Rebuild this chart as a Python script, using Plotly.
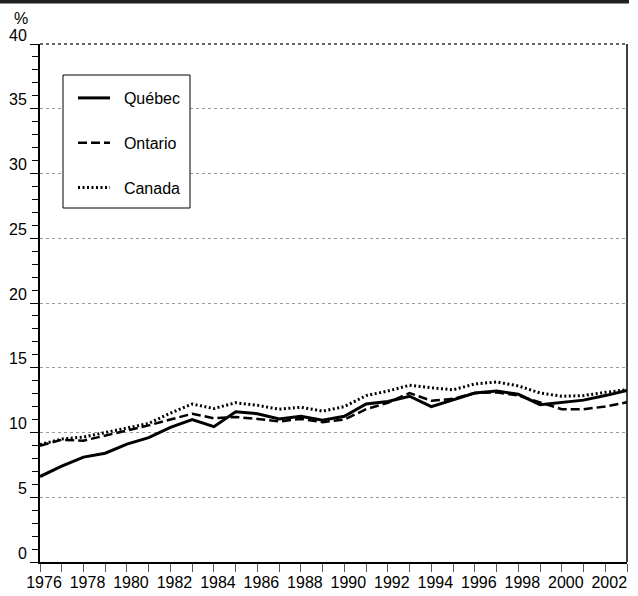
import plotly.graph_objects as go

years = list(range(1976, 2004))
quebec = [6.6, 7.4, 8.1, 8.4, 9.1, 9.6, 10.4, 11.0, 10.45, 11.6, 11.45, 11.05, 11.25, 10.95, 11.25, 12.2, 12.4, 12.8,
          12.0, 12.5, 13.05, 13.2, 12.95, 12.15, 12.3, 12.5, 12.85, 13.25]
ontario = [8.98, 9.44, 9.37, 9.75, 10.16, 10.55, 11.0, 11.45, 11.1, 11.2, 11.05, 10.85, 11.05, 10.8, 11.0, 11.8, 12.3, 13.05,
           12.45, 12.6, 13.05, 13.1, 12.85, 12.3, 11.8, 11.8, 12.0, 12.33]
canada = [9.06, 9.5, 9.65, 10.0, 10.4, 10.7, 11.5, 12.2, 11.85, 12.3, 12.1, 11.8, 11.95, 11.65, 12.0, 12.85, 13.2, 13.65,
          13.45, 13.3, 13.75, 13.9, 13.6, 13.05, 12.8, 12.85, 13.1, 13.3]
series_names = ["Québec", "Ontario", "Canada"]
x_tick_years = list(range(1976, 2003, 2))
y_ticks = [0, 5, 10, 15, 20, 25, 30, 35, 40]

FONT = "Liberation Sans, Arial, sans-serif"
FS = 16

W, H = 638, 596
L, R, T, B = 40, 11, 44, 34
PW, PH = W - L - R, H - T - B


def px(x):
    return (x - L) / PW


def py(y):
    return (H - B - y) / PH


fig = go.Figure()
styles = [dict(color="black", width=3, dash="solid"),
          dict(color="black", width=2.5, dash="9px,4px"),
          dict(color="black", width=3, dash="2px,2.5px")]
for name, vals, st in zip(series_names, [quebec, ontario, canada], styles):
    fig.add_trace(go.Scatter(x=years, y=vals, mode="lines", name="\u00a0\u00a0" + name, line=st,
                             legendgroup=name, hovertemplate=name + ": %{y}<extra>%{x}</extra>"))

fig.update_layout(
    width=W, height=H,
    margin=dict(l=L, r=R, t=T, b=B, pad=0, autoexpand=False),
    plot_bgcolor="white", paper_bgcolor="white",
    font=dict(family=FONT, size=FS, color="black"),
    showlegend=True,
    legend=dict(x=px(73), y=py(81), xanchor="left", yanchor="top",
                bgcolor="rgba(0,0,0,0)", borderwidth=0,
                font=dict(family=FONT, size=FS, color="black"),
                tracegroupgap=21, traceorder="grouped", itemwidth=32),
    xaxis=dict(range=[1976, 2003], tickvals=x_tick_years, ticktext=[str(v) for v in x_tick_years],
               ticks="outside", ticklen=8, tickwidth=1, tickcolor="#555",
               minor=dict(dtick=1, tick0=1976, ticks="outside", ticklen=8, tickwidth=1, tickcolor="#555"),
               showgrid=False, zeroline=False, automargin=False,
               showline=True, linecolor="black", linewidth=2,
               ticklabelshift=4, ticklabelstandoff=-3,
               tickfont=dict(family=FONT, size=FS, color="black")),
    yaxis=dict(range=[0, 40], tickvals=y_ticks, ticktext=[str(v) for v in y_ticks],
               ticks="outside", ticklen=8, tickwidth=1, tickcolor="black",
               minor=dict(dtick=1, tick0=0, ticks="outside", ticklen=6, tickwidth=1, tickcolor="black"),
               showgrid=True, gridcolor="#999", griddash="dot", gridwidth=1,
               zeroline=False, showline=True, linecolor="black", linewidth=2, automargin=False,
               ticklabelshift=-9,
               tickfont=dict(family=FONT, size=FS, color="black")),
    shapes=[
        dict(type="rect", xref="paper", yref="paper", x0=px(0), x1=px(629), y0=py(3.5), y1=py(0),
             fillcolor="#231f20", line=dict(width=0)),
        dict(type="line", xref="paper", yref="paper", x0=1, x1=1, y0=0, y1=1,
             line=dict(color="black", width=1.5)),
        dict(type="line", xref="paper", yref="paper", x0=0, x1=1, y0=1, y1=1,
             line=dict(color="#333", width=1.5, dash="dot")),
        dict(type="rect", xref="paper", yref="paper", x0=px(63), x1=px(190), y0=py(208), y1=py(75),
             fillcolor="white", line=dict(color="black", width=1), layer="above"),
    ],
    annotations=[
        dict(text="%", xref="paper", yref="paper", x=px(21), y=py(18), showarrow=False,
             font=dict(family=FONT, size=FS, color="black"), xanchor="center", yanchor="middle"),
    ],
)

fig.write_html("out.html", config={"displayModeBar": False},
               post_script="document.body.style.margin='0';document.body.style.padding='0';"
                           "document.documentElement.style.overflow='hidden';")
